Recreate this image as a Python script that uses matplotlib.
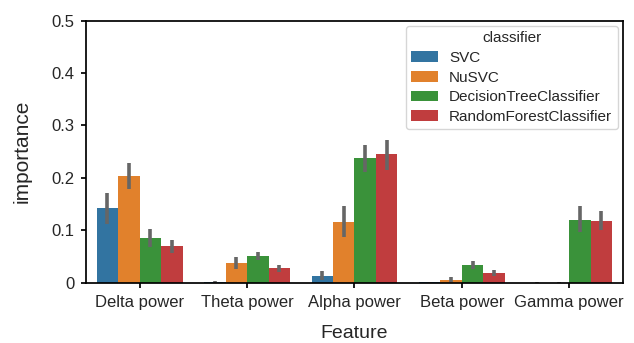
import numpy as np
import matplotlib
matplotlib.use("Agg")
import matplotlib.pyplot as plt
import seaborn as sns

# feature importances per classifier (mean, lower ci, upper ci)
features = ["Delta power", "Theta power", "Alpha power", "Beta power", "Gamma power"]
classifiers = ["SVC", "NuSVC", "DecisionTreeClassifier", "RandomForestClassifier"]

svc_mean = [0.143, 0.002, 0.013, 0.001, 0.000]
svc_lo = [0.112, 0.000, 0.006, 0.000, 0.000]
svc_hi = [0.171, 0.004, 0.023, 0.002, 0.001]

nusvc_mean = [0.203, 0.038, 0.116, 0.006, 0.000]
nusvc_lo = [0.179, 0.027, 0.087, 0.002, 0.000]
nusvc_hi = [0.228, 0.049, 0.146, 0.010, 0.001]

dt_mean = [0.086, 0.051, 0.238, 0.034, 0.120]
dt_lo = [0.068, 0.044, 0.212, 0.027, 0.097]
dt_hi = [0.103, 0.059, 0.262, 0.042, 0.146]

rf_mean = [0.070, 0.029, 0.246, 0.019, 0.118]
rf_lo = [0.057, 0.021, 0.215, 0.012, 0.101]
rf_hi = [0.082, 0.034, 0.273, 0.025, 0.137]

means = [svc_mean, nusvc_mean, dt_mean, rf_mean]
lows = [svc_lo, nusvc_lo, dt_lo, rf_lo]
highs = [svc_hi, nusvc_hi, dt_hi, rf_hi]

sns.set_style("ticks")
plt.rcParams["font.family"] = ["Liberation Sans", "DejaVu Sans"]
colors = ["#3274a1", "#e1812c", "#3a923a", "#c03d3e"]

fig = plt.figure(figsize=(6.34, 3.43), dpi=100)
ax = fig.add_axes([0.1356, 0.1758, 0.847, 0.764])

x = np.arange(len(features))
w = 0.2
for i, name in enumerate(classifiers):
    pos = x - 0.3 + i * w
    ax.bar(pos, means[i], width=w, color=colors[i], label=name, linewidth=0)
    ax.vlines(pos, lows[i], highs[i], color="#666666", linewidth=2.6)

ax.set_xlim(-0.5, len(features) - 0.5)
ax.set_ylim(0, 0.5)
ax.set_xticks(x)
ax.set_xticklabels(features, fontsize=12)
ax.set_yticks([0, 0.1, 0.2, 0.3, 0.4, 0.5])
ax.set_yticklabels(["0", "0.1", "0.2", "0.3", "0.4", "0.5"], fontsize=12)
ax.tick_params(length=3.5, width=1.25, color="black", pad=5, labelcolor="#262626")
for s in ax.spines.values():
    s.set_color("black")
    s.set_linewidth(1.25)
ax.set_xlabel("Feature", fontsize=14, labelpad=11, color="#262626")
ax.set_ylabel("importance", fontsize=15, labelpad=14, color="#262626")
leg = ax.legend(title="classifier", loc="upper right", fontsize=11, title_fontsize=11,
                borderaxespad=0.35, handlelength=1.8, handletextpad=0.7,
                labelspacing=0.37, borderpad=0.35)

fig.savefig("out.png", dpi=100)
